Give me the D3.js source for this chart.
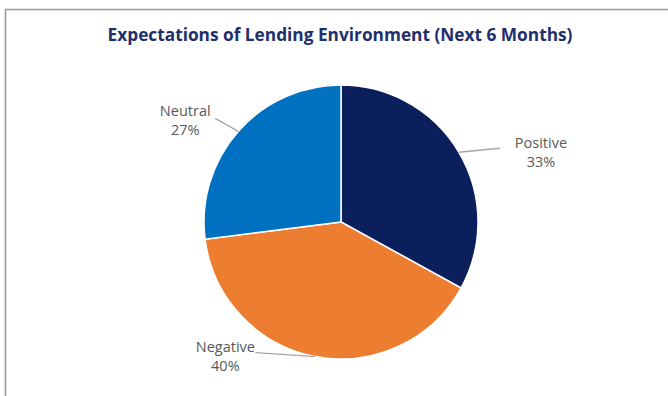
<!DOCTYPE html>
<html>
<head>
<meta charset="utf-8">
<script src="https://cdn.jsdelivr.net/npm/d3@7"></script>
<style>
  html, body { margin: 0; padding: 0; background: #fff; }
  svg { display: block; }
</style>
</head>
<body>
<svg id="chart" width="668" height="396"></svg>
<script>
// Survey responses
const categories = ["Positive", "Negative", "Neutral"];
const values = [33, 40, 27];
const colors = ["#0b1f5c", "#ed7d31", "#0070c0"];
const titleText = "Expectations of Lending Environment (Next 6 Months)";

// Label placement: [dx, dy] of the leader end from the slice edge, and label anchor offset
const leaderEnds = [[41, -4], [-60, -4], [-23, -13]];
const labelOffsets = [[41, -4], [-30, -5], [-30, -6]];

const svg = d3.select("#chart");
const W = 668, H = 396;

// Frame lines
svg.append("line").attr("x1", 5).attr("x2", W).attr("y1", 9.5).attr("y2", 9.5)
  .attr("stroke", "#9a9a9a").attr("stroke-width", 1.6);
svg.append("line").attr("x1", 5.5).attr("x2", 5.5).attr("y1", 9).attr("y2", H)
  .attr("stroke", "#9a9a9a").attr("stroke-width", 1.6);

// Title, sized to its span
const title = svg.append("text")
  .attr("x", 340).attr("y", 41)
  .attr("text-anchor", "middle")
  .attr("font-family", "'Open Sans', sans-serif")
  .attr("font-weight", "bold")
  .attr("font-size", 16)
  .attr("fill", "#1f2f6b")
  .text(titleText);
const tw = title.node().getComputedTextLength();
title.attr("font-size", 16 * 465 / tw);

const cx = 341, cy = 222, r = 137;
const g = svg.append("g").attr("transform", `translate(${cx},${cy})`);

const pie = d3.pie().sort(null).value(d => d)(values);
const arc = d3.arc().innerRadius(0).outerRadius(r);

g.selectAll("path.slice").data(pie).join("path")
  .attr("class", "slice")
  .attr("d", arc)
  .attr("fill", (d, i) => colors[i])
  .attr("stroke", "#fff")
  .attr("stroke-width", 1.5);

// Leader lines and labels
pie.forEach((d, i) => {
  const a = (d.startAngle + d.endAngle) / 2;
  const ex = r * Math.sin(a), ey = -r * Math.cos(a);
  const lx = ex + leaderEnds[i][0], ly = ey + leaderEnds[i][1];
  g.append("line")
    .attr("x1", ex).attr("y1", ey).attr("x2", lx).attr("y2", ly)
    .attr("stroke", "#a6a6a6").attr("stroke-width", 1.3);
  const tx = lx + labelOffsets[i][0], ty = ly + labelOffsets[i][1];
  const t = g.append("text")
    .attr("text-anchor", "middle")
    .attr("font-family", "'Open Sans', sans-serif")
    .attr("font-size", 14.5)
    .attr("fill", "#595959");
  t.append("tspan").attr("x", tx).attr("y", ty + 4).text(categories[i]);
  t.append("tspan").attr("x", tx).attr("y", ty + 23).text(d.data + "%");
});
</script>
</body>
</html>
